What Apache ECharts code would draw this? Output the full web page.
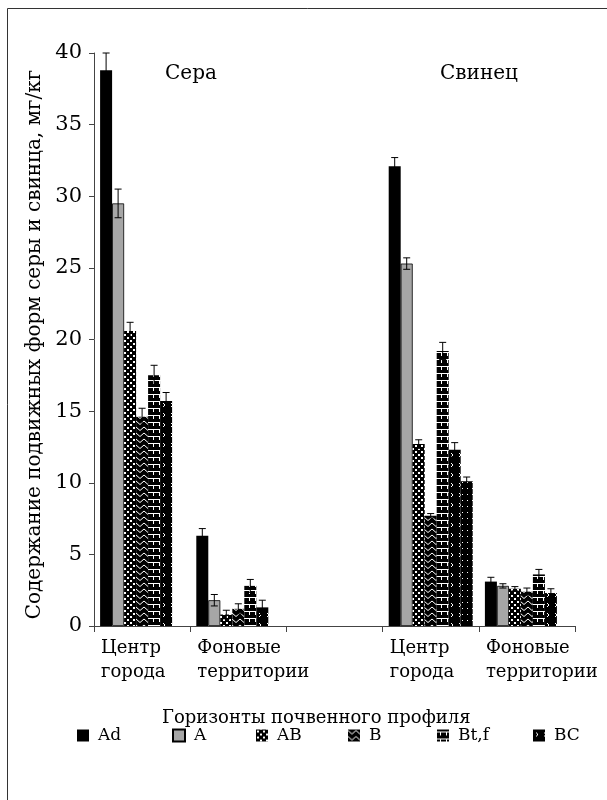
<!DOCTYPE html>
<html>
<head>
<meta charset="utf-8">
<script src="https://cdn.jsdelivr.net/npm/echarts@6/dist/echarts.min.js"></script>
<style>html,body{margin:0;padding:0;background:#fff}#c{width:607px;height:800px}</style>
</head>
<body>
<div id="c"></div>
<script>
// ---- data ----
const categories = ['Центр\nгорода', 'Фоновые\nтерритории', '', 'Центр\nгорода', 'Фоновые\nтерритории'];
const horizons = ['Ad', 'A', 'AB', 'B', 'Bt,f', 'BC', ''];
const valAd  = [38.8, 6.3, null, 32.1, 3.1];
const valA   = [29.5, 1.8, null, 25.3, 2.8];
const valAB  = [20.6, 0.8, null, 12.7, 2.6];
const valB   = [14.6, 1.2, null, 7.7, 2.4];
const valBtf = [17.5, 2.8, null, 19.2, 3.6];
const valBC  = [15.7, 1.3, null, 12.3, 2.3];
const valX   = [null, null, null, 10.1, null];
const errAd  = [1.2, 0.5, null, 0.6, 0.3];
const errA   = [1.0, 0.4, null, 0.4, 0.15];
const errAB  = [0.6, 0.3, null, 0.3, 0.15];
const errB   = [0.6, 0.35, null, 0.15, 0.25];
const errBtf = [0.7, 0.45, null, 0.6, 0.35];
const errBC  = [0.6, 0.5, null, 0.5, 0.3];
const errX   = [null, null, null, 0.3, null];
const yTicks = [0, 5, 10, 15, 20, 25, 30, 35, 40];
const groupLabels = ['Сера', 'Свинец'];
const yTitle = 'Содержание подвижных форм серы и свинца, мг/кг';
const xTitle = 'Горизонты почвенного профиля';

const values = [valAd, valA, valAB, valB, valBtf, valBC, valX];
const errors = [errAd, errA, errAB, errB, errBtf, errBC, errX];

// ---- patterns ----
function tile(w, h, draw) {
  const c = document.createElement('canvas');
  c.width = w; c.height = h;
  const g = c.getContext('2d');
  g.fillStyle = '#000'; g.fillRect(0, 0, w, h);
  g.fillStyle = '#fff'; g.strokeStyle = '#fff'; g.lineWidth = 1;
  draw(g);
  return { image: c, repeat: 'repeat' };
}
const patAB = tile(6, 6, g => { g.fillRect(1, 1, 2, 2); g.fillRect(4, 4, 2, 2); });
const patB = tile(8, 6, g => { g.beginPath(); g.moveTo(0, 1); g.lineTo(4, 4.5); g.lineTo(8, 1); g.stroke(); });
const patBtf = tile(6, 7, g => { g.fillRect(0, 2, 6, 1); g.fillRect(3, 3, 1, 3); });
const patBC = tile(8, 10, g => { g.beginPath(); g.moveTo(3, 3); g.lineTo(5, 5); g.lineTo(3, 7); g.stroke(); });
const patX = tile(5, 6, g => { g.fillRect(2, 2, 1, 1); });
const fills = ['#000', '#a6a6a6', patAB, patB, patBtf, patBC, patX];

const FONT = 'DejaVu Serif';
const BW = 12;

const series = [];
horizons.forEach((h, i) => {
  series.push({
    type: 'bar', name: h, data: values[i], barWidth: BW, barGap: '0%',
    itemStyle: { color: fills[i], borderColor: '#000', borderWidth: i === 1 ? 0.8 : 0 },
    emphasis: { disabled: true }
  });
});
horizons.forEach((h, i) => {
  const d = [];
  values[i].forEach((v, k) => { if (v != null) d.push([k, v, errors[i][k]]); });
  series.push({
    type: 'custom', name: h + '_err', data: d, z: 10, silent: true,
    encode: { x: 0, y: 1 },
    renderItem: (params, api) => {
      const k = api.value(0), v = api.value(1), e = api.value(2);
      const x = api.coord([k, v])[0] + (i - 3) * BW;
      const yt = api.coord([k, v + e])[1];
      const yb = api.coord([k, v - e])[1];
      const st = { stroke: '#000', lineWidth: 1 };
      return { type: 'group', children: [
        { type: 'line', shape: { x1: x, y1: yt, x2: x, y2: yb }, style: st },
        { type: 'line', shape: { x1: x - 3.5, y1: yt, x2: x + 3.5, y2: yt }, style: st },
        { type: 'line', shape: { x1: x - 3.5, y1: yb, x2: x + 3.5, y2: yb }, style: st }
      ]};
    }
  });
});

const legendX = [72, 167, 251, 343, 432, 528];
const legends = horizons.slice(0, 6).map((h, i) => ({
  data: [h], left: legendX[i], top: 722, icon: 'rect', itemWidth: 12, itemHeight: 12,
  itemGap: 0, selectedMode: false,
  textStyle: { fontFamily: FONT, fontSize: 17, color: '#000', padding: [0, 0, 0, 4] }
}));

const chart = echarts.init(document.getElementById('c'), null, { renderer: 'canvas' });
chart.setOption({
  animation: false,
  backgroundColor: '#fff',
  title: { text: xTitle, left: 157, top: 704, textStyle: { fontFamily: FONT, fontSize: 18, fontWeight: 'normal', color: '#000' } },
  legend: legends,
  grid: { left: 94, right: 32, top: 53, bottom: 174, containLabel: false },
  xAxis: {
    type: 'category', data: categories,
    axisLine: { lineStyle: { color: '#444', width: 1 } },
    axisTick: { show: true, length: 6, lineStyle: { color: '#444' } },
    axisLabel: {
      interval: 0, margin: 10, align: 'center',
      formatter: v => v.split('\n').map(s => '{a|' + s + '}').join('\n'),
      rich: { a: { fontFamily: FONT, fontSize: 18, color: '#000', width: 82, align: 'left', lineHeight: 24 } }
    }
  },
  yAxis: {
    type: 'value', min: 0, max: 40, interval: 5,
    name: yTitle, nameLocation: 'middle', nameGap: 46, nameRotate: 90,
    nameTextStyle: { fontFamily: FONT, fontSize: 20, color: '#000', padding: [0, 10, 0, 0] },
    axisLine: { show: true, lineStyle: { color: '#444', width: 1 } },
    axisTick: { show: true, length: 5, lineStyle: { color: '#444' } },
    splitLine: { show: false },
    axisLabel: { margin: 12, fontFamily: FONT, fontSize: 21, color: '#000',
      formatter: v => (yTicks.indexOf(v) >= 0 ? String(v) : '') }
  },
  graphic: [
    { type: 'rect', shape: { x: 7.5, y: 8.5, width: 700, height: 900 }, style: { fill: null, stroke: '#333', lineWidth: 1 }, silent: true },
    { type: 'text', left: 165, top: 64, style: { text: groupLabels[0], fontFamily: FONT, fontSize: 20, fill: '#000' } },
    { type: 'text', left: 440, top: 64, style: { text: groupLabels[1], fontFamily: FONT, fontSize: 20, fill: '#000' } }
  ],
  series: series
});
</script>
</body>
</html>
